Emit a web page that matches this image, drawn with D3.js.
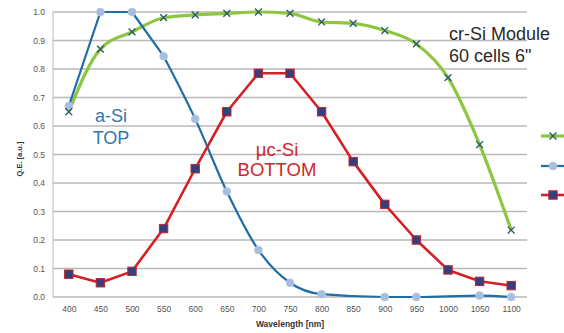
<!DOCTYPE html>
<html>
<head>
<meta charset="utf-8">
<script src="https://cdn.jsdelivr.net/npm/d3@7"></script>
<style>
  html, body { margin: 0; padding: 0; background: #fff; }
  svg { display: block; font-family: "Liberation Sans", Arial, sans-serif; }
</style>
</head>
<body>
<svg id="chart" width="564" height="333"></svg>
<script>
// Wavelength categories (nm)
const wavelengths = [400, 450, 500, 550, 600, 650, 700, 750, 800, 850, 900, 950, 1000, 1050, 1100];

// Quantum efficiency per series (null = no measurement at that wavelength)
const crSiModule = [0.65, 0.87, 0.93, 0.98, 0.99, 0.995, 1.0, 0.995, 0.965, 0.96, 0.935, 0.888, 0.77, 0.535, 0.235];
const aSiTop     = [0.67, 1.0, 1.0, 0.845, 0.625, 0.37, 0.165, 0.05, 0.01, null, 0.0, 0.0, null, 0.005, 0.0];
const ucSiBottom = [0.08, 0.05, 0.09, 0.24, 0.45, 0.65, 0.785, 0.785, 0.65, 0.475, 0.325, 0.20, 0.095, 0.055, 0.04];

const yTicks = [0.0, 0.1, 0.2, 0.3, 0.4, 0.5, 0.6, 0.7, 0.8, 0.9, 1.0];

const svg = d3.select("#chart");
const margin = { left: 53, right: 37, top: 12, bottom: 36 };
const W = 564, H = 333;

const x = d3.scalePoint()
  .domain(wavelengths)
  .range([margin.left, W - margin.right])
  .padding(0.5);
const y = d3.scaleLinear().domain([0, 1]).range([H - margin.bottom, margin.top]);

// Horizontal gridlines
svg.append("g")
  .selectAll("line")
  .data(yTicks.slice(1))
  .join("line")
  .attr("x1", margin.left)
  .attr("x2", W - margin.right)
  .attr("y1", d => y(d))
  .attr("y2", d => y(d))
  .attr("stroke", "#b9b9b9")
  .attr("stroke-width", 1.4);

// Axis lines
svg.append("line")
  .attr("x1", margin.left).attr("x2", margin.left)
  .attr("y1", y(1)).attr("y2", y(0))
  .attr("stroke", "#c4c4c4").attr("stroke-width", 1.2);
svg.append("line")
  .attr("x1", margin.left).attr("x2", W - margin.right)
  .attr("y1", y(0)).attr("y2", y(0))
  .attr("stroke", "#b9b9b9").attr("stroke-width", 1.4);

// Y tick labels
const yAxis = d3.axisLeft(y).tickValues(yTicks).tickFormat(d3.format(".1f")).tickSize(0).tickPadding(8);
const gy = svg.append("g").attr("transform", `translate(${margin.left},0)`).call(yAxis);
gy.select(".domain").remove();
gy.selectAll("text").attr("fill", "#555").style("font-size", "8.5px");

// X tick labels
const xAxis = d3.axisBottom(x).tickSize(0).tickPadding(9);
const gx = svg.append("g").attr("transform", `translate(0,${y(0)})`).call(xAxis);
gx.select(".domain").remove();
gx.selectAll("text").attr("fill", "#555").style("font-size", "8.5px");

// Axis titles
svg.append("text")
  .attr("x", (margin.left + W - margin.right) / 2)
  .attr("y", 327)
  .attr("text-anchor", "middle")
  .attr("font-weight", "bold")
  .attr("fill", "#333")
  .style("font-size", "8.5px")
  .text("Wavelength [nm]");

svg.append("text")
  .attr("transform", "translate(22,159) rotate(-90)")
  .attr("text-anchor", "middle")
  .attr("font-weight", "bold")
  .attr("fill", "#333")
  .style("font-size", "7.5px")
  .text("Q.E. [a.u.]");

const pts = vals => wavelengths
  .map((w, i) => [x(w), vals[i] == null ? null : y(vals[i])])
  .filter(p => p[1] != null);

const smooth = d3.line().curve(d3.curveMonotoneX);
const straight = d3.line();

// cr-Si module (smoothed green line)
svg.append("path")
  .attr("d", smooth(pts(crSiModule)))
  .attr("fill", "none").attr("stroke", "#8dc63f").attr("stroke-width", 3.2)
  .attr("stroke-linejoin", "round");

// a-Si top: straight rise to the plateau, smoothed decay afterwards
const blue = pts(aSiTop);
const riseEnd = 3;
const blueHead = straight(blue.slice(0, riseEnd + 1));
const blueTail = smooth(blue.slice(riseEnd)).replace(/^M[^A-Za-z]*/, "");
svg.append("path")
  .attr("d", blueHead + blueTail)
  .attr("fill", "none").attr("stroke", "#1f6ea6").attr("stroke-width", 2.2)
  .attr("stroke-linejoin", "round");

// µc-Si bottom (straight red line)
svg.append("path")
  .attr("d", straight(pts(ucSiBottom)))
  .attr("fill", "none").attr("stroke", "#d41f26").attr("stroke-width", 2.6)
  .attr("stroke-linejoin", "round");

function crossMarker(g, cx, cy) {
  const s = 3.4;
  g.append("path")
    .attr("d", `M${cx - s},${cy - s}L${cx + s},${cy + s}M${cx - s},${cy + s}L${cx + s},${cy - s}`)
    .attr("stroke", "#2d5d6b").attr("stroke-width", 1.4).attr("fill", "none");
}
function circleMarker(g, cx, cy) {
  g.append("circle").attr("cx", cx).attr("cy", cy).attr("r", 4)
    .attr("fill", "#a9bedf").attr("stroke", "#b8c8e4").attr("stroke-width", 0.6);
}
function squareMarker(g, cx, cy) {
  g.append("rect").attr("x", cx - 4.2).attr("y", cy - 4.2).attr("width", 8.4).attr("height", 8.4)
    .attr("fill", "#34407e").attr("stroke", "#c4232b").attr("stroke-width", 1);
}

const gm = svg.append("g");
pts(aSiTop).forEach(p => circleMarker(gm, p[0], p[1]));
pts(ucSiBottom).forEach(p => squareMarker(gm, p[0], p[1]));
pts(crSiModule).forEach(p => crossMarker(gm, p[0], p[1]));

// Legend swatches at the right edge
const legend = svg.append("g");
[
  { yy: 136, color: "#8dc63f", w: 3.2, mark: crossMarker },
  { yy: 166, color: "#1f6ea6", w: 2.2, mark: circleMarker },
  { yy: 195, color: "#d41f26", w: 2.6, mark: squareMarker }
].forEach(d => {
  legend.append("line").attr("x1", 541).attr("x2", 570).attr("y1", d.yy).attr("y2", d.yy)
    .attr("stroke", d.color).attr("stroke-width", d.w);
  d.mark(legend, 553, d.yy);
});

// Annotations
svg.append("text").attr("x", 449).attr("y", 40).attr("fill", "#2a2a2a").style("font-size", "18px").text("cr-Si Module");
svg.append("text").attr("x", 449).attr("y", 62).attr("fill", "#2a2a2a").style("font-size", "18px").text("60 cells 6\"");

svg.append("text").attr("x", 111).attr("y", 122).attr("text-anchor", "middle").attr("fill", "#2f78ad").style("font-size", "18px").text("a-Si");
svg.append("text").attr("x", 111).attr("y", 144).attr("text-anchor", "middle").attr("fill", "#2f78ad").style("font-size", "18px").text("TOP");

svg.append("text").attr("x", 277).attr("y", 156).attr("text-anchor", "middle").attr("fill", "#d0262d").style("font-size", "18.5px").text("μc-Si");
svg.append("text").attr("x", 277).attr("y", 176).attr("text-anchor", "middle").attr("fill", "#d0262d").style("font-size", "18.5px").text("BOTTOM");
</script>
</body>
</html>
